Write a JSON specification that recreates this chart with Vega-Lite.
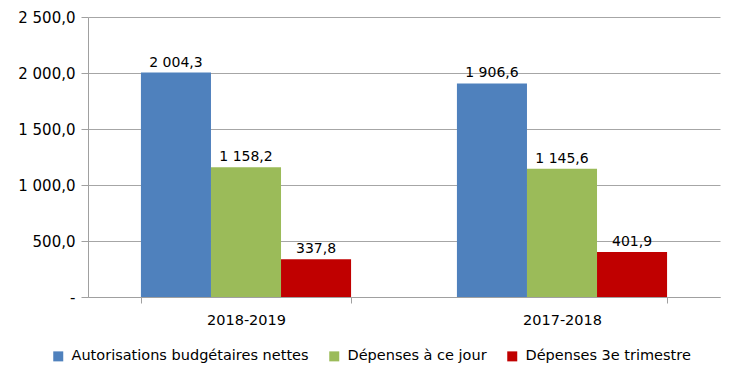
{
  "$schema": "https://vega.github.io/schema/vega-lite/v6.json",
  "width": 632,
  "height": 280,
  "autosize": {"type": "none"},
  "padding": {"left": 88, "top": 17, "right": 20, "bottom": 83},
  "background": "white",
  "config": {
    "font": "DejaVu Sans",
    "view": {"stroke": null},
    "locale": {"number": {"decimal": ",", "thousands": " ", "grouping": [3], "currency": ["", " €"]}}
  },
  "data": {
    "values": [
      {"annee": "2018-2019", "serie": "Autorisations budgétaires nettes", "valeur": 2004.3},
      {"annee": "2018-2019", "serie": "Dépenses à ce jour", "valeur": 1158.2},
      {"annee": "2018-2019", "serie": "Dépenses 3e trimestre", "valeur": 337.8},
      {"annee": "2017-2018", "serie": "Autorisations budgétaires nettes", "valeur": 1906.6},
      {"annee": "2017-2018", "serie": "Dépenses à ce jour", "valeur": 1145.6},
      {"annee": "2017-2018", "serie": "Dépenses 3e trimestre", "valeur": 401.9}
    ]
  },
  "encoding": {
    "x": {
      "field": "annee", "type": "nominal", "sort": ["2018-2019", "2017-2018"],
      "scale": {"paddingInner": 0.335, "paddingOuter": 0.1675},
      "axis": {"title": null, "labelAngle": 0, "labelFontSize": 14.5, "labelColor": "#000", "labelPadding": 10,
               "domainColor": "#a0a0a0", "tickColor": "#a0a0a0", "tickBand": "extent", "tickSize": 6}
    },
    "xOffset": {"field": "serie", "type": "nominal",
      "sort": ["Autorisations budgétaires nettes", "Dépenses à ce jour", "Dépenses 3e trimestre"],
      "scale": {"paddingInner": 0, "paddingOuter": 0}},
    "y": {
      "field": "valeur", "type": "quantitative",
      "scale": {"domain": [0, 2500]},
      "axis": {"title": null, "values": [0, 500, 1000, 1500, 2000, 2500], "format": ",.1f",
               "labelExpr": "datum.value == 0 ? '-\u00a0\u00a0' : datum.label",
               "labelFontSize": 15, "labelColor": "#000", "labelPadding": 6,
               "gridColor": "#a6a6a6", "domainColor": "#a0a0a0", "tickColor": "#a0a0a0", "tickSize": 7}
    }
  },
  "layer": [
    {
      "mark": {"type": "bar"},
      "encoding": {
        "color": {"field": "serie", "type": "nominal",
          "sort": ["Autorisations budgétaires nettes", "Dépenses à ce jour", "Dépenses 3e trimestre"],
          "scale": {"domain": ["Autorisations budgétaires nettes", "Dépenses à ce jour", "Dépenses 3e trimestre"],
                    "range": ["#4f81bd", "#9bbb59", "#c00000"]},
          "legend": {"title": null, "orient": "none", "legendX": -37, "legendY": 332, "direction": "horizontal",
                     "symbolType": "square", "symbolSize": 100, "symbolStrokeWidth": 0, "symbolOffset": 0,
                     "labelFontSize": 14.5, "labelColor": "#000", "labelLimit": 400, "labelOffset": 6,
                     "columnPadding": 18}
        }
      }
    },
    {
      "mark": {"type": "text", "dy": -10, "fontSize": 14, "color": "#000"},
      "encoding": {
        "text": {"field": "valeur", "type": "quantitative", "format": ",.1f"}
      }
    }
  ]
}
